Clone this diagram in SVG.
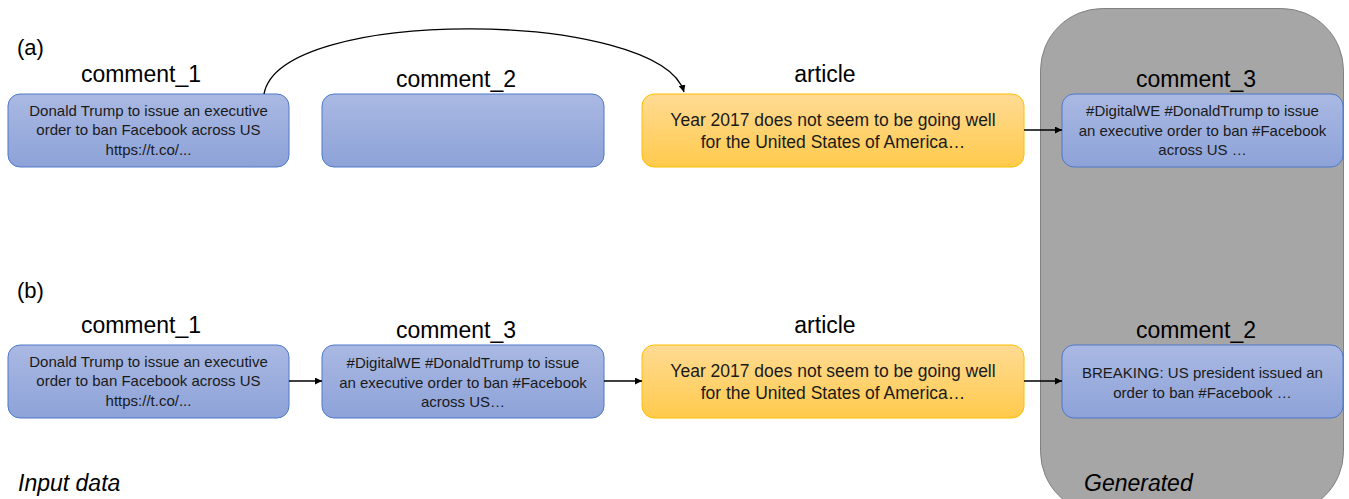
<svg xmlns="http://www.w3.org/2000/svg" width="1349" height="499" viewBox="0 0 1349 499">
<defs>
<linearGradient id="gBlue" x1="0" y1="0" x2="0" y2="1"><stop offset="0" stop-color="#aab9e3"/><stop offset="1" stop-color="#8da2d8"/></linearGradient>
<linearGradient id="gOrange" x1="0" y1="0" x2="0" y2="1"><stop offset="0" stop-color="#ffdb94"/><stop offset="1" stop-color="#ffca4c"/></linearGradient>
<marker id="arr" viewBox="0 0 10 10" refX="10" refY="5" markerWidth="7" markerHeight="7" orient="auto" markerUnits="userSpaceOnUse"><path d="M0 0 L10 5 L0 10 z" fill="#000"/></marker>
<style>
.blue{fill:url(#gBlue);stroke:#4e79c7;stroke-width:1}
.orange{fill:url(#gOrange);stroke:#ffc000;stroke-width:1}
.lbl{font-family:"Liberation Sans",Arial,sans-serif;font-size:23px;fill:#000;text-anchor:middle}
.sm{font-family:"Liberation Sans",Arial,sans-serif;font-size:15px;fill:#1a1a1a;text-anchor:middle}
.art{font-family:"Liberation Sans",Arial,sans-serif;font-size:17.5px;fill:#1a1a1a;text-anchor:middle}
.tag{font-family:"Liberation Sans",Arial,sans-serif;font-size:22px;fill:#000}
.it{font-family:"Liberation Sans",Arial,sans-serif;font-size:23px;font-style:italic;fill:#000}
.con{fill:none;stroke:#000;stroke-width:1.3;marker-end:url(#arr)}
</style>
</defs>
<rect width="1349" height="499" fill="#fff"/>
<g id="generated-panel">
<rect x="1040.5" y="8.5" width="303" height="505" rx="62" ry="62" fill="#a6a6a6" stroke="#808080" stroke-width="1"/>
<text class="it" x="1084" y="491">Generated</text>
</g>
<text class="it" x="18" y="491">Input data</text>
<text class="tag" x="17" y="55">(a)</text>
<text class="tag" x="17" y="298">(b)</text>

<g id="a-comment1">
<text class="lbl" x="141" y="82">comment_1</text>
<rect class="blue" x="8" y="94" width="281" height="73" rx="12"/>
<text class="sm" x="148.5" y="116">Donald Trump to issue an executive</text>
<text class="sm" x="148.5" y="135">order to ban Facebook across US</text>
<text class="sm" x="148.5" y="155">https://t.co/...</text>
</g>
<g id="a-comment2">
<text class="lbl" x="456" y="87">comment_2</text>
<rect class="blue" x="322" y="94" width="282" height="73" rx="12"/>
</g>
<g id="a-article">
<text class="lbl" x="825" y="82">article</text>
<rect class="orange" x="642" y="94" width="382" height="73" rx="12"/>
<text class="art" x="833" y="126">Year 2017 does not seem to be going well</text>
<text class="art" x="833" y="148">for the United States of America…</text>
</g>
<g id="a-comment3">
<text class="lbl" x="1196" y="87">comment_3</text>
<rect class="blue" x="1062" y="94" width="281" height="73" rx="12"/>
<text class="sm" x="1202.5" y="116">#DigitalWE #DonaldTrump to issue</text>
<text class="sm" x="1202.5" y="136">an executive order to ban #Facebook</text>
<text class="sm" x="1202.5" y="155">across US …</text>
</g>

<g id="b-comment1">
<text class="lbl" x="141" y="333">comment_1</text>
<rect class="blue" x="8" y="345" width="281" height="73" rx="12"/>
<text class="sm" x="148.5" y="367">Donald Trump to issue an executive</text>
<text class="sm" x="148.5" y="386">order to ban Facebook across US</text>
<text class="sm" x="148.5" y="406">https://t.co/...</text>
</g>
<g id="b-comment3">
<text class="lbl" x="456" y="338">comment_3</text>
<rect class="blue" x="322" y="345" width="282" height="73" rx="12"/>
<text class="sm" x="463" y="368">#DigitalWE #DonaldTrump to issue</text>
<text class="sm" x="463" y="388">an executive order to ban #Facebook</text>
<text class="sm" x="463" y="407">across US…</text>
</g>
<g id="b-article">
<text class="lbl" x="825" y="333">article</text>
<rect class="orange" x="642" y="345" width="382" height="73" rx="12"/>
<text class="art" x="833" y="377">Year 2017 does not seem to be going well</text>
<text class="art" x="833" y="399">for the United States of America…</text>
</g>
<g id="b-comment2">
<text class="lbl" x="1196" y="338">comment_2</text>
<rect class="blue" x="1062" y="345" width="281" height="73" rx="12"/>
<text class="sm" x="1202.5" y="378">BREAKING: US president issued  an</text>
<text class="sm" x="1202.5" y="398">order to ban #Facebook …</text>
</g>

<g id="connectors">
<path class="con" d="M264 94 C280 5, 660 10, 684 92"/>
<line class="con" x1="1024" y1="130" x2="1062" y2="130"/>
<line class="con" x1="289" y1="381" x2="322" y2="381"/>
<line class="con" x1="604" y1="381" x2="642" y2="381"/>
<line class="con" x1="1024" y1="381" x2="1062" y2="381"/>
</g>
</svg>
